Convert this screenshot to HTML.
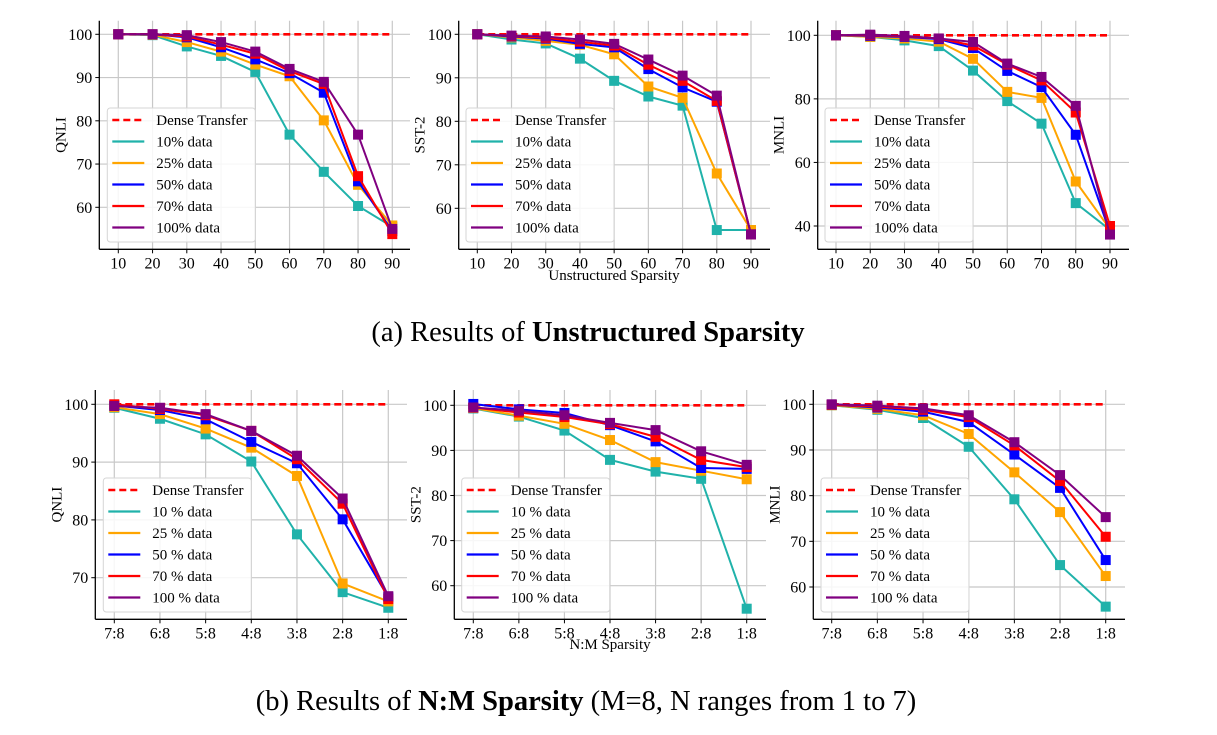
<!DOCTYPE html>
<html><head><meta charset="utf-8"><style>
body{margin:0;background:#fff;width:1217px;height:730px;overflow:hidden}
svg{font-family:"Liberation Serif",serif}
</style></head><body>
<svg id="fig" width="1217" height="730">
<text x="588" y="341" font-size="28.5" text-anchor="middle">(a)  Results of <tspan font-weight="bold">Unstructured Sparsity</tspan></text>
<text x="586" y="710" font-size="28.5" text-anchor="middle">(b)  Results of <tspan font-weight="bold">N:M Sparsity</tspan> (M=8, N ranges from 1 to 7)</text>
<text x="614" y="280" font-size="15" text-anchor="middle">Unstructured Sparsity</text>
<text x="610" y="649" font-size="15" text-anchor="middle">N:M Sparsity</text>
</svg>
<script>
const unstructCats=["10","20","30","40","50","60","70","80","90"];
const nmCats=["7:8","6:8","5:8","4:8","3:8","2:8","1:8"];
const seriesLabelsTop=["10% data","25% data","50% data","70% data","100% data"];
const seriesLabelsBot=["10 % data","25 % data","50 % data","70 % data","100 % data"];
const colors=["#20b2aa","#ffa500","#0000ff","#ff0000","#800080"];
const qnliU10=[100,99.8,97.2,95,91.3,76.8,68.2,60.3,55.5];
const qnliU25=[100,99.9,98.2,96,93,90.3,80.1,65.2,55.8];
const qnliU50=[100,100,99.3,97,94.2,91,86.5,66,54.5];
const qnliU70=[100,100,99.5,97.6,95.5,91.5,88.5,67.2,53.8];
const qnliU100=[100,100,99.8,98.2,96,92,89,76.8,55];
const sstU10=[100,98.8,97.9,94.4,89.3,85.7,83.6,55,55];
const sstU25=[100,99.3,98.5,97.6,95.4,88,85.4,68,55];
const sstU50=[100,99.5,99,97.8,97,92,87.8,84.5,54];
const sstU70=[100,99.6,99.2,98.3,97.4,93,89.3,84.7,54];
const sstU100=[100,99.7,99.5,98.8,97.8,94.2,90.5,85.9,54];
const mnliU10=[100,99.5,98.4,96.6,88.9,79.3,72.2,47.2,38.8];
const mnliU25=[100,99.5,99,98,92.6,82.2,80.3,54,39];
const mnliU50=[100,99.8,99.5,98.8,96,88.8,83.7,68.7,38];
const mnliU70=[100,100,99.7,99,96.8,90.8,85.8,75.7,40];
const mnliU100=[100,100.2,99.8,99,97.9,91.1,86.9,77.8,37.3];
const qnliN10=[99.4,97.5,94.8,90.1,77.5,67.5,64.8];
const qnliN25=[99.5,98.3,95.8,92.5,87.6,69,65.9];
const qnliN50=[99.8,99,97.4,93.5,89.8,80.1,66.6];
const qnliN70=[100,99.2,98.1,95.4,90.5,82.8,66.3];
const qnliN100=[99.7,99.4,98.3,95.4,91.1,83.7,66.8];
const sstN10=[99.3,97.5,94.4,87.9,85.3,83.7,54.9];
const sstN25=[99.4,97.7,95.9,92.3,87.4,85.5,83.6];
const sstN50=[100.3,99.1,98.3,95.6,92,86.1,85.9];
const sstN70=[99.5,98.4,97.4,95.8,93,87.9,86.3];
const sstN100=[99.5,98.8,97.8,96.1,94.5,89.8,86.8];
const mnliN10=[99.8,98.8,97,90.7,79.2,64.8,55.7];
const mnliN25=[99.8,99,97.6,93.5,85.1,76.4,62.4];
const mnliN50=[99.9,99.3,98.4,96.1,89,81.7,65.9];
const mnliN70=[99.9,99.5,98.8,97.2,91,83.2,71];
const mnliN100=[100,99.7,99.1,97.6,91.7,84.5,75.3];
const ticks5=[60,70,80,90,100];
const ticksM=[40,60,80,100];
const ticksQ=[70,80,90,100];
const denseValue=100;

const NS="http://www.w3.org/2000/svg";
const svg=document.getElementById('fig');
function mk(tag,attrs,parent){const e=document.createElementNS(NS,tag);for(const k in attrs)e.setAttribute(k,attrs[k]);(parent||svg).appendChild(e);return e;}

function plot(cfg){
  const g=mk('g',{});
  
  
  const n=cfg.cats.length;
  const xs=i=>cfg.x0+(cfg.x1-cfg.x0)*i/(n-1);
  const ys=v=>cfg.ya+(v-cfg.va)*(cfg.yb-cfg.ya)/(cfg.vb-cfg.va);
  cfg.cats.forEach((c,i)=>{
    const l=mk('line',{x1:xs(i),x2:xs(i),y1:cfg.top,y2:cfg.bottom,stroke:'#c8c8c8','stroke-width':1.2},g);
    
    
    mk('line',{x1:xs(i),x2:xs(i),y1:cfg.bottom,y2:cfg.bottom+4,stroke:'#000','stroke-width':1},g);
    const t=mk('text',{x:xs(i),y:cfg.bottom+19,'font-size':16,'text-anchor':'middle'},g);
    t.textContent=c;
    
    
  });
  cfg.ticks.forEach(v=>{
    const l=mk('line',{x1:cfg.left,x2:cfg.right,y1:ys(v),y2:ys(v),stroke:'#c8c8c8','stroke-width':1.2},g);
    
    
    mk('line',{x1:cfg.left-4,x2:cfg.left,y1:ys(v),y2:ys(v),stroke:'#000','stroke-width':1},g);
    const t=mk('text',{x:cfg.left-7,y:ys(v)+5.5,'font-size':16,'text-anchor':'end'},g);
    t.textContent=v;
    
    
  });
  mk('line',{x1:cfg.left,x2:cfg.left,y1:cfg.top,y2:cfg.bottom,stroke:'#000','stroke-width':1.3},g);
  mk('line',{x1:cfg.left,x2:cfg.right,y1:cfg.bottom,y2:cfg.bottom,stroke:'#000','stroke-width':1.3},g);
  const yl=mk('text',{x:0,y:0,'font-size':15,'text-anchor':'middle',transform:`translate(${cfg.left-34},${(cfg.top+cfg.bottom)/2}) rotate(-90)`},g);
  yl.textContent=cfg.ylabel;
  
  
  const d=mk('line',{x1:xs(0),x2:xs(n-1),y1:ys(denseValue),y2:ys(denseValue),stroke:'#ff0000','stroke-width':2.6,'stroke-dasharray':'7,4'},g);
  
  
  cfg.series.forEach((s,k)=>{
    const pts=s.map((v,i)=>xs(i)+','+ys(v)).join(' ');
    const p=mk('polyline',{points:pts,fill:'none',stroke:colors[k],'stroke-width':2},g);
    
    
    s.forEach((v,i)=>{
      const r=mk('rect',{x:xs(i)-5,y:ys(v)-5,width:10,height:10,fill:colors[k]},g);
      
      
    });
  });
  const lg=mk('g',{},g);
  
  
  mk('rect',{x:cfg.lx,y:cfg.ly,width:148,height:134,rx:3,fill:'#fff','fill-opacity':0.85,stroke:'#d6d6d6'},lg);
  const labels=['Dense Transfer'].concat(cfg.labels);
  labels.forEach((lab,j)=>{
    const yy=cfg.ly+12+j*21.5;
    const ln=mk('line',{x1:cfg.lx+5,x2:cfg.lx+37,y1:yy,y2:yy,stroke:j==0?'#ff0000':colors[j-1],'stroke-width':j==0?2.6:2.2},lg);
    if(j==0)ln.setAttribute('stroke-dasharray','7,4');
    const t=mk('text',{x:cfg.lx+49,y:yy+5,'font-size':15},lg);
    t.textContent=lab;
    
    
  });
}

plot({name:'chart-qnli-unstructured',cats:unstructCats,left:99.3,right:410,top:20.7,bottom:249.3,x0:118.3,x1:392.3,va:100,ya:34.3,vb:60,yb:207.3,ticks:ticks5,ylabel:'QNLI',lx:107.3,ly:108,labels:seriesLabelsTop,series:[qnliU10,qnliU25,qnliU50,qnliU70,qnliU100]});
plot({name:'chart-sst2-unstructured',cats:unstructCats,left:458.7,right:770,top:20.7,bottom:249.3,x0:477.3,x1:751,va:100,ya:34.3,vb:60,yb:208.3,ticks:ticks5,ylabel:'SST-2',lx:466,ly:108,labels:seriesLabelsTop,series:[sstU10,sstU25,sstU50,sstU70,sstU100]});
plot({name:'chart-mnli-unstructured',cats:unstructCats,left:817.7,right:1129,top:20.7,bottom:249.3,x0:836,x1:1110,va:100,ya:35.3,vb:40,yb:226,ticks:ticksM,ylabel:'MNLI',lx:825,ly:108,labels:seriesLabelsTop,series:[mnliU10,mnliU25,mnliU50,mnliU70,mnliU100]});
plot({name:'chart-qnli-nm',cats:nmCats,left:95.3,right:407,top:390,bottom:619.3,x0:114.3,x1:388.3,va:100,ya:404.3,vb:70,yb:577.7,ticks:ticksQ,ylabel:'QNLI',lx:103.3,ly:478,labels:seriesLabelsBot,series:[qnliN10,qnliN25,qnliN50,qnliN70,qnliN100]});
plot({name:'chart-sst2-nm',cats:nmCats,left:454.3,right:766,top:390,bottom:619.3,x0:473.3,x1:746.7,va:100,ya:405.3,vb:60,yb:585.7,ticks:ticks5,ylabel:'SST-2',lx:461.7,ly:478,labels:seriesLabelsBot,series:[sstN10,sstN25,sstN50,sstN70,sstN100]});
plot({name:'chart-mnli-nm',cats:nmCats,left:813.3,right:1125,top:390,bottom:619.3,x0:831.7,x1:1105.7,va:100,ya:404.3,vb:60,yb:587,ticks:ticks5,ylabel:'MNLI',lx:821,ly:478,labels:seriesLabelsBot,series:[mnliN10,mnliN25,mnliN50,mnliN70,mnliN100]});
</script>
</body></html>
